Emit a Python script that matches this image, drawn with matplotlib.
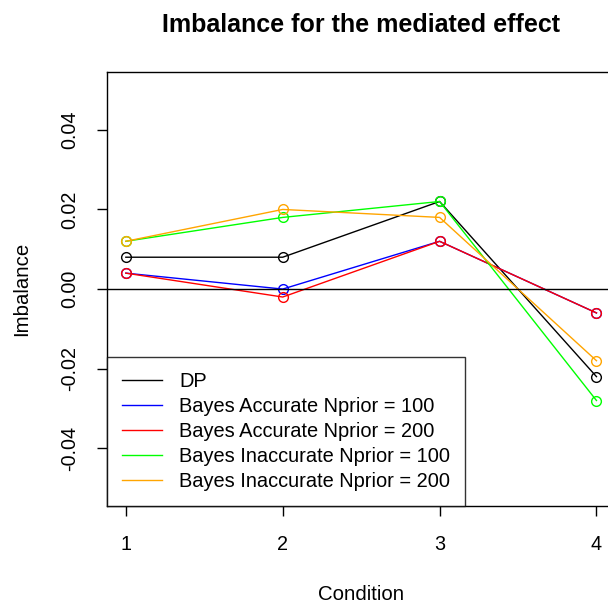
import matplotlib
matplotlib.use("Agg")
import matplotlib.pyplot as plt

plt.rcParams['font.family'] = ['Liberation Sans', 'DejaVu Sans']

conditions = [1, 2, 3, 4]
dp = [0.008, 0.008, 0.022, -0.022]
acc_100 = [0.004, 0.000, 0.012, -0.006]
acc_200 = [0.004, -0.002, 0.012, -0.006]
inacc_100 = [0.012, 0.018, 0.022, -0.028]
inacc_200 = [0.012, 0.020, 0.018, -0.018]

series = [
    ("DP", dp, "black"),
    ("Bayes Accurate Nprior = 100", acc_100, "#0000FF"),
    ("Bayes Accurate Nprior = 200", acc_200, "#FF0000"),
    ("Bayes Inaccurate Nprior = 100", inacc_100, "#00FF00"),
    ("Bayes Inaccurate Nprior = 200", inacc_200, "#FFA500"),
]
yticks = [-0.04, -0.02, 0.00, 0.02, 0.04]
ytick_labels = ["-0.04", "-0.02", "0.00", "0.02", "0.04"]

fig = plt.figure(figsize=(6.08, 6.06), dpi=100)
ax = fig.add_axes([0.176, 0.165, 0.836, 0.716])

for label, vals, color in series:
    ax.plot(conditions, vals, color=color, lw=1.0, marker='o', ms=7,
            mfc='none', mec=color, mew=1.0, label=label)

ax.axhline(0, color='black', lw=1.0)

ax.set_xlim(0.88, 4.12)
ax.set_ylim(-0.0545, 0.0545)
ax.set_xticks(conditions)
ax.set_xticklabels([str(c) for c in conditions])
ax.set_yticks(yticks)
ax.set_yticklabels(ytick_labels, rotation=90, va='center')
ax.tick_params(direction='out', length=7, width=1, labelsize=14.2)
ax.tick_params(axis='x', pad=14)
ax.tick_params(axis='y', pad=13)
for s in ax.spines.values():
    s.set_linewidth(1.0)

ax.set_xlabel("Condition", fontsize=14.7, labelpad=22)
ax.set_ylabel("Imbalance", fontsize=14.7)
ax.yaxis.set_label_coords(-0.150, 0.5)
fig.suptitle("Imbalance for the mediated effect", fontsize=18,
             fontweight='bold', x=0.594, y=0.978)

leg = ax.legend(loc='lower left', borderaxespad=0, fontsize=14.4,
                frameon=True, fancybox=False, edgecolor='black',
                handlelength=2.0, handletextpad=0.85, labelspacing=0.3,
                borderpad=0.75)
leg.get_frame().set_linewidth(1.0)
for h in leg.legend_handles:
    h.set_marker('')

fig.savefig("out.png", dpi=100)
